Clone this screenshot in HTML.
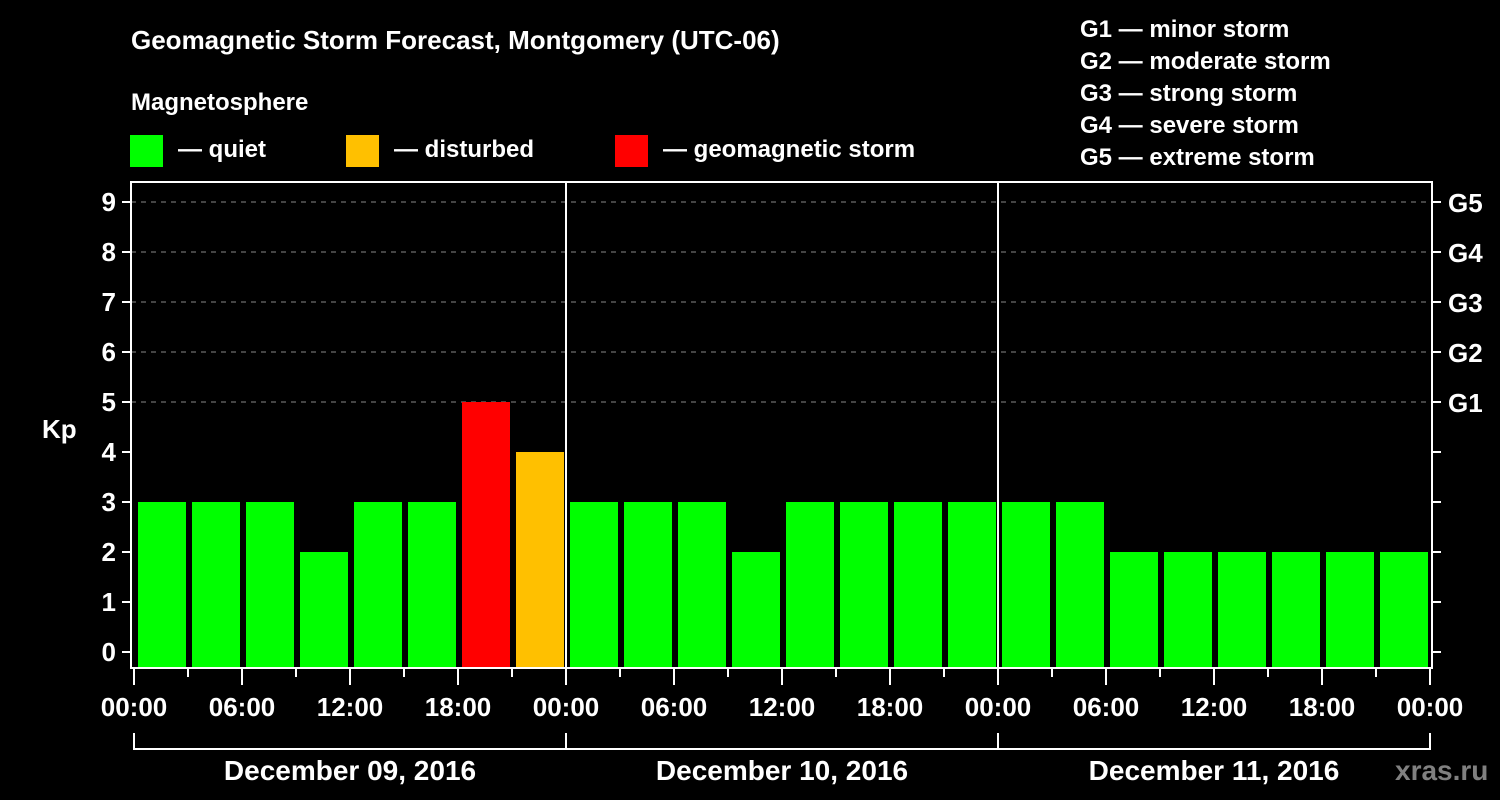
<!DOCTYPE html>
<html><head><meta charset="utf-8"><style>
html,body{margin:0;padding:0;background:#000;}
svg{display:block;font-family:"Liberation Sans",Arial,sans-serif;font-weight:bold;}
</style></head><body>
<svg id="chart" width="1500" height="800" viewBox="0 0 1500 800" xmlns="http://www.w3.org/2000/svg">
<rect width="1500" height="800" fill="#000"/>
<text x="131" y="49" fill="#fff" font-size="26">Geomagnetic Storm Forecast, Montgomery (UTC-06)</text>
<text x="131" y="110" fill="#fff" font-size="24">Magnetosphere</text>
<g><rect x="130" y="135" width="33" height="32" fill="#00ff00"/><text x="178" y="157" fill="#fff" font-size="24">— quiet</text></g>
<g><rect x="346" y="135" width="33" height="32" fill="#ffc000"/><text x="394" y="157" fill="#fff" font-size="24">— disturbed</text></g>
<g><rect x="615" y="135" width="33" height="32" fill="#ff0000"/><text x="663" y="157" fill="#fff" font-size="24">— geomagnetic storm</text></g>
<g fill="#fff" font-size="24">
<text x="1080" y="37">G1 — minor storm</text>
<text x="1080" y="69">G2 — moderate storm</text>
<text x="1080" y="101">G3 — strong storm</text>
<text x="1080" y="133">G4 — severe storm</text>
<text x="1080" y="165">G5 — extreme storm</text>
</g>
<text x="42" y="438" fill="#fff" font-size="26">Kp</text>
<g id="grid"></g>
<g id="bars"></g>
<g id="axes"></g>
<text x="1395" y="780" fill="#808080" font-size="28">xras.ru</text>
</svg>
<script>
const kpValues = [3,3,3,2,3,3,5,4, 3,3,3,2,3,3,3,3, 3,3,2,2,2,2,2,2];
const timeLabels = ["00:00","06:00","12:00","18:00","00:00","06:00","12:00","18:00","00:00","06:00","12:00","18:00","00:00"];
const dayLabels = ["December 09, 2016","December 10, 2016","December 11, 2016"];
const yTicks = [0,1,2,3,4,5,6,7,8,9];
const gLabels = ["G1","G2","G3","G4","G5"];

const NS="http://www.w3.org/2000/svg";
const X0=134, X1=1430, SLOT=(X1-X0)/kpValues.length;
const PL=131, PR=1432, PT=182, PB=668;
function xs(i){return X0+i*SLOT;}
function ys(v){return 652-v*50;}
function mk(parent,tag,attrs){const e=document.createElementNS(NS,tag);for(const k in attrs)e.setAttribute(k,attrs[k]);document.getElementById(parent).appendChild(e);return e;}
function color(v){return v>=5?"#ff0000":(v>=4?"#ffc000":"#00ff00");}

yTicks.forEach(v=>{
  if(v>=5){
    const g=mk("grid","line",{x1:PL,x2:PR,y1:ys(v),y2:ys(v),stroke:"#888","stroke-width":1,"stroke-dasharray":"5,5"});
    
    
  }
});

kpValues.forEach((v,i)=>{
  const r=mk("bars","rect",{x:xs(i)+4,y:ys(v),width:SLOT-6,height:667-ys(v),fill:color(v)});
  
  
});

const fr=mk("axes","rect",{x:PL,y:PT,width:PR-PL,height:PB-PT,fill:"none",stroke:"#fff","stroke-width":2});


for(let d=1;d<dayLabels.length;d++){
  const x=X0+d*(X1-X0)/dayLabels.length;
  const l=mk("axes","line",{x1:x,x2:x,y1:PT,y2:PB,stroke:"#fff","stroke-width":2});
  
  
}
yTicks.forEach(v=>{
  const t=mk("axes","line",{x1:122,x2:PL,y1:ys(v),y2:ys(v),stroke:"#fff","stroke-width":2});
  
  
  const rt=mk("axes","line",{x1:PR,x2:1441,y1:ys(v),y2:ys(v),stroke:"#fff","stroke-width":2});
  
  
  const tx=mk("axes","text",{x:116,y:ys(v)+9,fill:"#fff","font-size":26,"text-anchor":"end"});
  
  
  tx.textContent=v;
});
gLabels.forEach((g,i)=>{
  const tx=mk("axes","text",{x:1448,y:ys(5+i)+10,fill:"#fff","font-size":26});
  
  
  tx.textContent=g;
});
for(let i=0;i<=kpValues.length;i++){
  const major=i%2===0;
  const t=mk("axes","line",{x1:xs(i),x2:xs(i),y1:PB,y2:major?685:677,stroke:"#fff","stroke-width":2});
  
  
}
timeLabels.forEach((s,i)=>{
  const tx=mk("axes","text",{x:xs(i*2),y:716,fill:"#fff","font-size":26,"text-anchor":"middle"});
  
  
  tx.textContent=s;
});
const DW=(X1-X0)/dayLabels.length;
const br=mk("axes","path",{d:`M${X0},733 V749 H${X1} V733`,fill:"none",stroke:"#fff","stroke-width":2});


dayLabels.forEach((s,d)=>{
  if(d>0){const l=mk("axes","line",{x1:X0+d*DW,x2:X0+d*DW,y1:733,y2:749,stroke:"#fff","stroke-width":2});
  
  }
  const tx=mk("axes","text",{x:X0+d*DW+DW/2,y:780,fill:"#fff","font-size":28,"text-anchor":"middle"});
  
  
  tx.textContent=s;
});
</script>
</body></html>
